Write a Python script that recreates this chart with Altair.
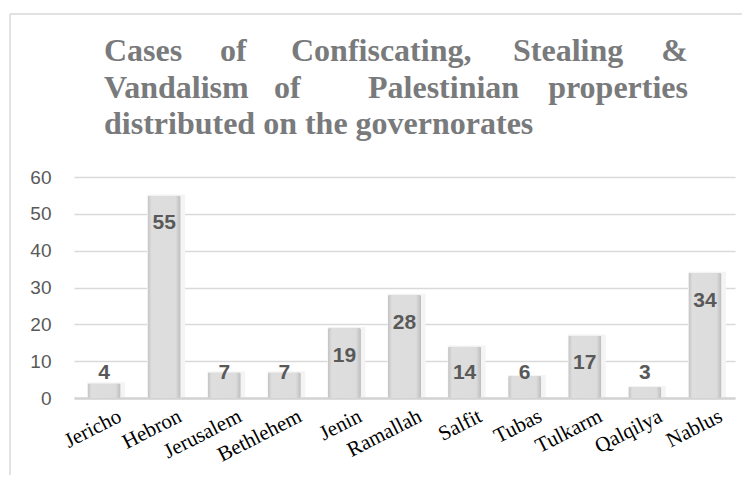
import altair as alt
import pandas as pd

governorates = ["Jericho", "Hebron", "Jerusalem", "Bethlehem", "Jenin", "Ramallah",
                "Salfit", "Tubas", "Tulkarm", "Qalqilya", "Nablus"]
cases = [4, 55, 7, 7, 19, 28, 14, 6, 17, 3, 34]
y_ticks = [0, 10, 20, 30, 40, 50, 60]

title_line1 = ["Cases", "of", "Confiscating,", "Stealing", "&"]
title_line2 = ["Vandalism", "of", "Palestinian", "properties"]
title_line3 = "distributed on the governorates"

df = pd.DataFrame({"gov": governorates, "cases": cases})
one = pd.DataFrame({"k": [0]})

W, H = 661, 221

grad = alt.LinearGradient(
    gradient="linear",
    stops=[
        alt.GradientStop(color="#c2c2c2", offset=0),
        alt.GradientStop(color="#dedede", offset=0.12),
        alt.GradientStop(color="#dcdcdc", offset=0.85),
        alt.GradientStop(color="#bcbcbc", offset=1),
    ],
    x1=0, x2=1, y1=0, y2=0,
)

x_axis = alt.Axis(
    labelAngle=-27, labelAlign="right", labelBaseline="top",
    labelPadding=7, labelOffset=11, ticks=False, labelOverlap=False,
    domainColor="#d3d3d3", domainWidth=2.5,
    labelFont="Liberation Serif", labelFontSize=21, labelColor="#000000",
    labelFontWeight="normal",
)
y_axis = alt.Axis(
    values=y_ticks, domain=False, ticks=False, labelPadding=23,
    labelOverlap=False, gridColor="#d9d9d9", gridWidth=1.5,
    labelFont="Liberation Sans", labelFontSize=19, labelColor="#595959",
)
x_scale = alt.Scale(paddingInner=0.45, paddingOuter=0.225)
y_scale = alt.Scale(domain=[0, 60], nice=False)

xenc = alt.X("gov:N", sort=governorates, title=None, scale=x_scale, axis=x_axis)
yenc = alt.Y("cases:Q", title=None, scale=y_scale, axis=y_axis)

shadow = alt.Chart(df).mark_bar(color="#f4f4f4", xOffset=2, yOffset=-1, size=38).encode(
    x=xenc, y=yenc
)
bars = alt.Chart(df).mark_bar(fill=grad, cornerRadius=2).encode(x=xenc, y=yenc)

labels = alt.Chart(df).transform_calculate(
    pos="max(datum.cases - 7.6, 6.8)"
).mark_text(
    font="Liberation Sans", fontWeight="bold", fontSize=21, color="#595959",
    baseline="middle", align="center",
).encode(
    x=xenc,
    y=alt.Y("pos:Q", title=None, scale=y_scale, axis=y_axis),
    text="cases:Q",
)

title_style = dict(font="Liberation Serif", fontWeight="bold", fontSize=32,
                   color="#797a7c", baseline="alphabetic")

layers = []
# frame lines
layers.append(alt.Chart(one).mark_rule(color="#d9d9d9", strokeWidth=1.5).encode(
    x=alt.value(-64), y=alt.value(-163), y2=alt.value(298)))
layers.append(alt.Chart(one).mark_rule(color="#d9d9d9", strokeWidth=1.5).encode(
    y=alt.value(-163), x=alt.value(-64), x2=alt.value(668)))

layers += [shadow, bars, labels]

# justified title, line by line
l1_x = [30, 146, 217, 439, 614]
for i, (w, xx) in enumerate(zip(title_line1, l1_x)):
    al = "right" if i == len(title_line1) - 1 else "left"
    layers.append(alt.Chart(one).mark_text(align=al, **title_style).encode(
        x=alt.value(xx), y=alt.value(-116), text=alt.value(w)))
l2_x = [30, 200, 294, 614]
for i, (w, xx) in enumerate(zip(title_line2, l2_x)):
    al = "right" if i == len(title_line2) - 1 else "left"
    layers.append(alt.Chart(one).mark_text(align=al, **title_style).encode(
        x=alt.value(xx), y=alt.value(-79), text=alt.value(w)))
layers.append(alt.Chart(one).mark_text(align="left", **title_style).encode(
    x=alt.value(30), y=alt.value(-43), text=alt.value(title_line3)))

chart = alt.layer(*layers).properties(
    width=W, height=H,
    padding={"left": 1, "top": 5, "right": 0, "bottom": 0},
).configure_view(stroke=None)

chart.save("out.html", embed_options={"renderer": "svg", "actions": False})
